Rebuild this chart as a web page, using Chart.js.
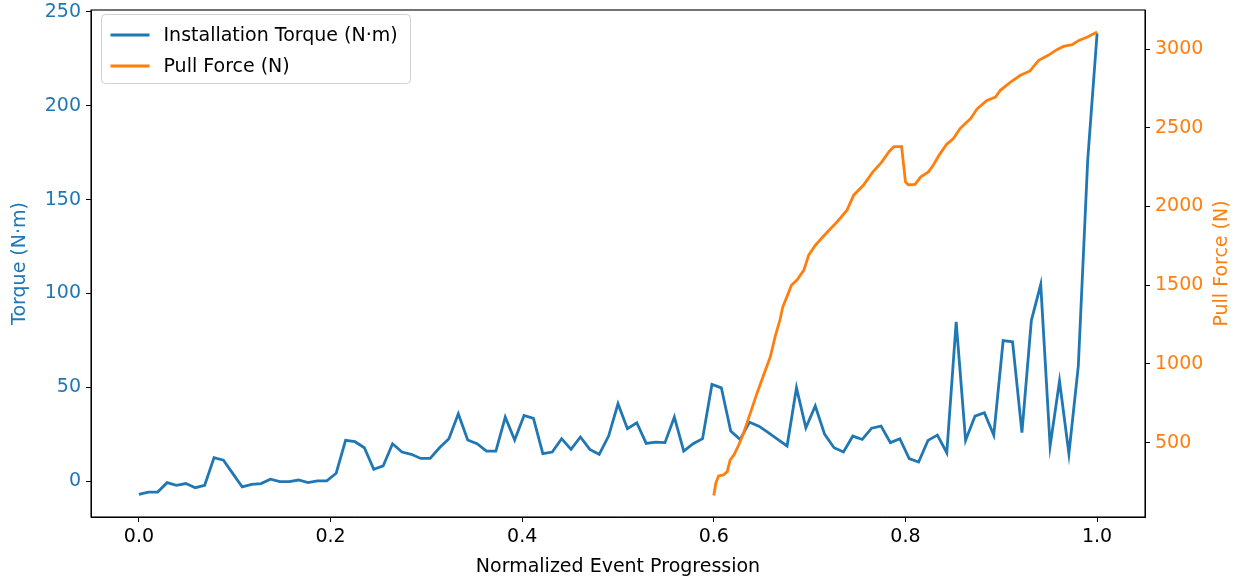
<!DOCTYPE html>
<html>
<head>
<meta charset="utf-8">
<script src="https://cdn.jsdelivr.net/npm/chart.js@4.4.0/dist/chart.umd.min.js"></script>
<style>
  html, body { margin: 0; padding: 0; background: #fff; }
  canvas { display: block; }
</style>
</head>
<body>
<canvas id="chart" width="1240" height="584"></canvas>
<script>
// torque samples, evenly spaced over the normalized progression 0..1
const torqueValues = [
  -6.9, -5.7, -5.7, -0.7, -2.1, -1.2, -3.4, -2.1, 12.6, 11.3,
  4.1, -3.0, -1.6, -1.2, 1.1, -0.2, -0.2, 0.7, -0.7, 0.2,
  0.2, 4.3, 21.8, 21.1, 17.9, 6.4, 8.2, 20.0, 15.6, 14.4,
  12.2, 12.2, 17.9, 22.7, 36.0, 22.0, 20.0, 16.1, 16.1, 34.2,
  22.0, 35.1, 33.5, 14.7, 15.6, 22.7, 17.0, 23.6, 17.0, 14.4,
  24.1, 41.3, 28.0, 31.2, 20.2, 20.9, 20.6, 34.2, 16.1, 20.0,
  22.7, 51.6, 49.8, 26.8, 22.3, 31.5, 29.4, 25.9, 22.3, 18.8,
  49.8, 28.5, 40.1, 25.0, 17.9, 15.6, 24.1, 22.3, 28.3, 29.4,
  20.6, 22.7, 12.1, 10.3, 21.8, 24.6, 15.2, 84.9, 21.8, 34.7,
  36.5, 24.6, 75.0, 74.3, 25.9, 85.6, 104.8, 18.8, 53.4, 14.7,
  61.3, 171, 238.6
];

// pull force only recorded from 0.6 onwards
const pullProgress = [
  0.600, 0.602, 0.605, 0.610, 0.614, 0.617, 0.621, 0.626, 0.631, 0.638,
  0.645, 0.652, 0.659, 0.664, 0.669, 0.672, 0.677, 0.681, 0.687, 0.694,
  0.699, 0.706, 0.718, 0.729, 0.739, 0.746, 0.756, 0.766, 0.775, 0.783,
  0.788, 0.796, 0.800, 0.803, 0.810, 0.816, 0.824, 0.829, 0.835, 0.843,
  0.850, 0.857, 0.868, 0.875, 0.885, 0.894, 0.899, 0.910, 0.920, 0.930,
  0.939, 0.949, 0.958, 0.965, 0.974, 0.981, 0.990, 1.000
];
const pullForce = [
  165, 242, 289, 295, 316, 390, 422, 485, 560, 686,
  813, 930, 1046, 1173, 1279, 1363, 1437, 1500, 1535, 1596,
  1691, 1754, 1835, 1905, 1977, 2072, 2135, 2220, 2280, 2350,
  2380, 2380, 2156, 2138, 2140, 2188, 2220, 2262, 2325, 2395,
  2431, 2495, 2558, 2622, 2674, 2695, 2738, 2791, 2833, 2861,
  2928, 2960, 2996, 3017, 3028, 3055, 3076, 3108
];

const xTicks = [0.0, 0.2, 0.4, 0.6, 0.8, 1.0];
const torqueTicks = [0, 50, 100, 150, 200, 250];
const pullTicks = [500, 1000, 1500, 2000, 2500, 3000];

const BLUE = '#1f77b4';
const ORANGE = '#ff7f0e';
const font = { family: 'DejaVu Sans', size: 19 };

// don't let chart.js reserve extra room for half tick labels
const noPad = s => { s.paddingTop = 0; s.paddingBottom = 0; s.paddingLeft = 0; s.paddingRight = 0; };

// matplotlib-like box around the axes, the right axis title and the legend
const frameAndLegend = {
  id: 'frameAndLegend',
  afterDatasetsDraw(chart) {
    const { ctx, chartArea: a } = chart;
    ctx.save();
    ctx.strokeStyle = '#000';
    ctx.lineWidth = 1.1;
    ctx.strokeRect(a.left, a.top, a.right - a.left, a.bottom - a.top);

    // right title reads bottom-to-top like in matplotlib
    ctx.save();
    ctx.translate(1222, (a.top + a.bottom) / 2);
    ctx.rotate(-Math.PI / 2);
    ctx.font = '19px "DejaVu Sans"';
    ctx.fillStyle = ORANGE;
    ctx.textAlign = 'center';
    ctx.textBaseline = 'middle';
    ctx.fillText('Pull Force (N)', 0, 0);
    ctx.restore();

    const bx = a.left + 10.5, by = a.top + 4.5, bw = 309, bh = 69;
    ctx.beginPath();
    ctx.roundRect(bx, by, bw, bh, 4);
    ctx.fillStyle = 'rgba(255,255,255,0.8)';
    ctx.fill();
    ctx.strokeStyle = '#d0d0d0';
    ctx.lineWidth = 1;
    ctx.stroke();

    const items = [
      { label: 'Installation Torque (N·m)', color: BLUE },
      { label: 'Pull Force (N)', color: ORANGE }
    ];
    ctx.font = '19px "DejaVu Sans"';
    ctx.textBaseline = 'middle';
    items.forEach((it, i) => {
      const y = by + 20.5 + i * 31;
      ctx.strokeStyle = it.color;
      ctx.lineWidth = 2.8;
      ctx.beginPath();
      ctx.moveTo(bx + 9, y);
      ctx.lineTo(bx + 48, y);
      ctx.stroke();
      ctx.fillStyle = '#000';
      ctx.fillText(it.label, bx + 62, y + 1);
    });
    ctx.restore();
  }
};

new Chart(document.getElementById('chart'), {
  type: 'line',
  data: {
    datasets: [{
      label: 'Installation Torque (N·m)',
      data: torqueValues.map((v, i) => ({ x: i / (torqueValues.length - 1), y: v })),
      borderColor: BLUE,
      borderWidth: 2.8,
      yAxisID: 'y',
      order: 2
    }, {
      label: 'Pull Force (N)',
      data: pullProgress.map((p, i) => ({ x: p, y: pullForce[i] })),
      borderColor: ORANGE,
      borderWidth: 2.8,
      yAxisID: 'y1',
      order: 1
    }]
  },
  options: {
    responsive: false,
    animation: false,
    devicePixelRatio: 1,
    layout: { padding: { top: 10, left: 0, right: 0, bottom: 0 } },
    elements: { point: { radius: 0 }, line: { tension: 0, fill: false } },
    plugins: { legend: { display: false }, tooltip: { enabled: false } },
    scales: {
      x: {
        type: 'linear',
        min: -0.05,
        max: 1.05,
        afterBuildTicks: s => { s.ticks = xTicks.map(v => ({ value: v })); },
        afterFit: s => { s.height = 67; noPad(s); },
        ticks: { font, color: '#000', padding: 4, maxRotation: 0, callback: v => v.toFixed(1) },
        grid: { drawOnChartArea: false, tickLength: 5, color: '#000' },
        border: { color: '#000' },
        title: { display: true, text: 'Normalized Event Progression', font, color: '#000', padding: { top: 0, bottom: 6 } }
      },
      y: {
        position: 'left',
        min: -19,
        max: 251,
        afterBuildTicks: s => { s.ticks = torqueTicks.map(v => ({ value: v })); },
        afterFit: s => { s.width = 91; noPad(s); },
        ticks: { font, color: BLUE, padding: 5, callback: v => String(v) },
        grid: { drawOnChartArea: false, tickLength: 5, color: '#000' },
        border: { color: '#000' },
        title: { display: true, text: 'Torque (N·m)', font, color: BLUE, padding: { top: 9, bottom: 0 } }
      },
      y1: {
        position: 'right',
        min: 28,
        max: 3248,
        afterBuildTicks: s => { s.ticks = pullTicks.map(v => ({ value: v })); },
        afterFit: s => { s.width = 95; noPad(s); },
        ticks: { font, color: ORANGE, padding: 5, callback: v => String(v) },
        grid: { drawOnChartArea: false, tickLength: 5, color: '#000' },
        border: { color: '#000' },
        title: { display: false }
      }
    }
  },
  plugins: [frameAndLegend]
});
</script>
</body>
</html>
